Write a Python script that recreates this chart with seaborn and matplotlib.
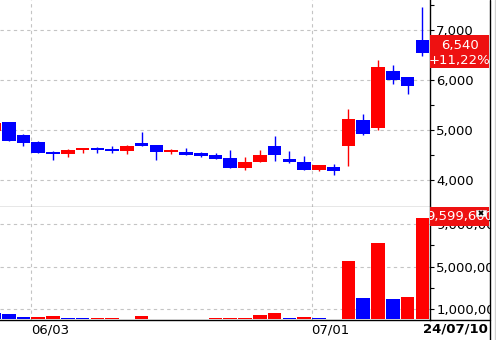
import numpy as np
import pandas as pd
import matplotlib
matplotlib.use("Agg")
import matplotlib.pyplot as plt
import matplotlib.transforms as mtransforms
from matplotlib.patches import Rectangle
from matplotlib.lines import Line2D
import seaborn as sns

# ---------------- data ----------------
idx = list(range(30))
opens  = [4990, 5160, 4900, 4770, 4560, 4520, 4600, 4640, 4620, 4590,
          4740, 4700, 4570, 4560, 4540, 4500, 4440, 4250, 4370, 4680,
          4420, 4370, 4210, 4260, 4690, 5200, 5050, 6180, 6060, 6810]
highs  = [5200, 5170, 4930, 4780, 4590, 4620, 4630, 4670, 4690, 4700,
          4960, 4710, 4630, 4650, 4560, 4540, 4600, 4470, 4600, 4890,
          4580, 4490, 4310, 4330, 5430, 5330, 6400, 6300, 6070, 7470]
lows   = [4980, 4780, 4690, 4540, 4400, 4470, 4540, 4550, 4550, 4530,
          4680, 4410, 4520, 4500, 4470, 4420, 4240, 4200, 4360, 4390,
          4350, 4200, 4190, 4110, 4280, 4910, 5000, 5930, 5730, 6480]
closes = [5150, 4790, 4750, 4550, 4520, 4600, 4620, 4610, 4590, 4690,
          4690, 4570, 4600, 4510, 4490, 4430, 4250, 4370, 4500, 4500,
          4370, 4210, 4300, 4190, 5220, 4930, 6260, 6010, 5880, 6540]
volumes = [600000, 480000, 190000, 230000, 290000, 100000, 95000, 130000, 140000, 80000,
           290000, 80000, 70000, 60000, 55000, 110000, 150000, 155000, 400000, 650000,
           160000, 190000, 100000, 90000, 5480000, 2020000, 7190000, 1950000, 2140000, 9599600]

month_pos = [2.5, 21.5]
month_labels = ["06/03", "07/01"]
last_date = "24/07/10"
price_ticks = [4000, 5000, 6000, 7000]
price_minor = [4500, 5500, 6500, 7500]
vol_ticks = [1000000, 5000000, 9000000]
vol_minor = [3000000, 7000000]

RED = "#ff0000"
BLUE = "#0000ff"
GRID = "#c4c4c4"

# ---------------- style ----------------
sns.set_style("white")
plt.rcParams["font.family"] = ["DejaVu Sans"]
FS = 9.5

W, H = 496, 340
fig = plt.figure(figsize=(W / 100, H / 100), dpi=100)
fig.patch.set_facecolor("white")


def rect(x0, y0, x1, y1):
    return [x0 / W, 1 - y1 / H, (x1 - x0) / W, (y1 - y0) / H]


ax_p = fig.add_axes(rect(0, 0, 430, 207))
ax_v = fig.add_axes(rect(0, 207, 430, 320))

XLIM = (0.41, 29.52)

# ---------------- candles ----------------
o = np.array(opens); c = np.array(closes)
cols = [RED if cc >= oo else BLUE for oo, cc in zip(opens, closes)]
bottoms = np.minimum(o, c)
heights = np.maximum(np.abs(c - o), 40)
ax_p.vlines(idx, lows, highs, colors=cols, linewidth=1.0, zorder=2)
ax_p.bar(idx, heights, bottom=bottoms, width=0.92, color=cols, linewidth=0, zorder=3)

ax_p.set_xlim(*XLIM)
ax_p.set_ylim(3460, 7600)
ax_p.set_xticks(month_pos)
ax_p.set_xticklabels([])
ax_p.tick_params(axis="x", length=0)
ax_p.yaxis.tick_right()
ax_p.set_yticks(price_ticks)
ax_p.set_yticks(price_minor, minor=True)
ax_p.set_yticklabels([f"{v:,}" for v in price_ticks])
ax_p.tick_params(axis="y", which="both", direction="out", length=3, width=0.8,
                 color="black", pad=1.5, labelsize=FS, labelcolor="black")
ax_p.grid(True, which="major", linestyle=(0, (3, 3)), color=GRID, linewidth=0.8)
ax_p.set_axisbelow(True)
for s in ["left", "top"]:
    ax_p.spines[s].set_visible(False)
ax_p.spines["right"].set_color("black"); ax_p.spines["right"].set_linewidth(1)
ax_p.spines["bottom"].set_color("#888888"); ax_p.spines["bottom"].set_linewidth(1)

# last price box
bt = mtransforms.blended_transform_factory(ax_p.transAxes, ax_p.transData)
box = Rectangle((1.0, closes[-1] - 300), 59 / 430, 660, transform=bt,
                facecolor="#ee1111", edgecolor="none", clip_on=False, zorder=6)
ax_p.add_patch(box)
pct = (closes[-1] / closes[-2] - 1) * 100
ax_p.text(459.5 / 430, closes[-1], f"{closes[-1]:,}\n+{pct:.2f}%".replace(".", ","),
          transform=bt, ha="center", va="center", color="white", fontsize=FS,
          linespacing=1.15, clip_on=False, zorder=7)

# ---------------- volume ----------------
vdir = ["down"] + ["up" if volumes[i] > volumes[i - 1] else "down" for i in range(1, len(volumes))]
df = pd.DataFrame({"idx": idx, "vol": volumes, "dir": vdir})
sns.barplot(data=df, x="idx", y="vol", hue="dir", palette={"up": RED, "down": BLUE},
            native_scale=True, dodge=False, width=0.92, saturation=1, legend=False,
            errorbar=None, linewidth=0, ax=ax_v, zorder=3)
ax_v.set_xlim(*XLIM)
ax_v.set_ylim(-50000, 10620000)
ax_v.set_xlabel(""); ax_v.set_ylabel("")
ax_v.set_xticks(month_pos)
ax_v.set_xticklabels(month_labels, fontsize=FS, color="black")
for lbl in ax_v.get_xticklabels():
    lbl.set_ha("left")
ax_v.tick_params(axis="x", length=0, pad=2.5)
ax_v.yaxis.tick_right()
ax_v.set_yticks(vol_ticks)
ax_v.set_yticks(vol_minor, minor=True)
ax_v.set_yticklabels([f"{v:,}" for v in vol_ticks])
ax_v.tick_params(axis="y", which="both", direction="out", length=3, width=0.8,
                 color="black", pad=1.5, labelsize=FS, labelcolor="black")
ax_v.grid(True, which="major", linestyle=(0, (3, 3)), color=GRID, linewidth=0.8)
ax_v.set_axisbelow(True)
for s in ["left", "top"]:
    ax_v.spines[s].set_visible(False)
for s in ["right", "bottom"]:
    ax_v.spines[s].set_color("black"); ax_v.spines[s].set_linewidth(1)

# last volume box
bv = mtransforms.blended_transform_factory(ax_v.transAxes, ax_v.transData)
vbox = Rectangle((1.0, volumes[-1] - 800000), 59 / 430, 1800000, transform=bv,
                 facecolor="#ee1111", edgecolor="none", clip_on=False, zorder=6)
ax_v.add_patch(vbox)
vt = ax_v.text(459.5 / 430, volumes[-1] + 130000, f"{volumes[-1]:,}", transform=bv,
               ha="center", va="center", color="white", fontsize=FS, zorder=7)
vt.set_clip_on(True)
vt.set_clip_path(vbox)
xbox = Rectangle((476 / 430, volumes[-1] + 160000), 10 / 430, 620000, transform=bv,
                 facecolor="white", edgecolor="#dddddd", linewidth=0.5, clip_on=False, zorder=8)
ax_v.add_patch(xbox)
ax_v.plot([481 / 430], [volumes[-1] + 470000], marker="x", color="black", ms=3.5, mew=1.3,
          transform=bv, clip_on=False, zorder=9)

# right border / cover
fig.add_artist(Rectangle((489.5 / W, 0), (W - 489.5) / W, 1, transform=fig.transFigure,
                         facecolor="white", edgecolor="none", zorder=10))
fig.add_artist(Line2D([489.5 / W, 489.5 / W], [0, 1], transform=fig.transFigure,
                      color="black", linewidth=1, zorder=11))
fig.add_artist(Line2D([495 / W, 495 / W], [0, 1], transform=fig.transFigure,
                      color="#d0d0d0", linewidth=1, zorder=11))
fig.add_artist(Line2D([430 / W, 489.5 / W], [1 - 320 / H, 1 - 320 / H], transform=fig.transFigure,
                      color="black", linewidth=1, zorder=11))

fig.text(488 / W, 1 - 329.5 / H, last_date, ha="right", va="center",
         fontsize=FS, fontweight="bold", color="black")

fig.savefig("out.png", dpi=100, facecolor="white")
